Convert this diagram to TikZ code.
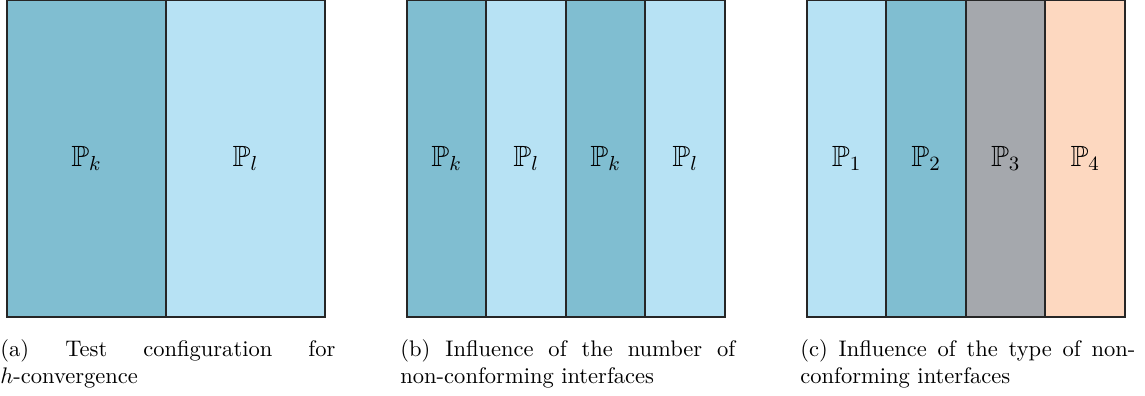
\documentclass[tikz,border=0pt]{standalone}
\usepackage{amssymb}
\usepackage{tikz}
\usetikzlibrary{positioning}
\definecolor{celldark}{RGB}{128,190,209}
\definecolor{celllight}{RGB}{183,226,244}
\definecolor{cellgray}{RGB}{165,168,173}
\definecolor{cellpeach}{RGB}{253,216,192}
\definecolor{edgedark}{RGB}{38,38,38}
\tikzset{
  wide/.style={rectangle, draw=edgedark, line width=0.9pt,
    minimum width=70.6pt, minimum height=140.7pt,
    inner sep=0pt, outer sep=0pt, font=\fontsize{13}{15}\selectfont},
  slab/.style={wide, minimum width=35.3pt},
  caption/.style={anchor=north west, text width=148.7pt, align=justify,
    inner sep=0pt, font=\normalsize}
}
\begin{document}
\begin{tikzpicture}
  \useasboundingbox (0,0) rectangle (508.4pt,-175.8pt);

  % ── (a) two subdomains ─────────────────────────────────────────────────────
  \node[wide, fill=celldark, anchor=north west] (ak) at (3.1pt,0) {$\mathbb{P}_k$};
  \node[wide, fill=celllight, right=0pt of ak] (al) {$\mathbb{P}_l$};
  \node[caption] (capa) at (0,-150.5pt)
    {(a) Test configuration for\linebreak $h$-convergence};

  % ── (b) alternating subdomains ─────────────────────────────────────────────
  \node[slab, fill=celldark, anchor=north west] (bk1) at (180.7pt,0) {$\mathbb{P}_k$};
  \node[slab, fill=celllight, right=0pt of bk1] (bl1) {$\mathbb{P}_l$};
  \node[slab, fill=celldark, right=0pt of bl1] (bk2) {$\mathbb{P}_k$};
  \node[slab, fill=celllight, right=0pt of bk2] (bl2) {$\mathbb{P}_l$};
  \node[caption] (capb) at (177.6pt,-150.5pt)
    {(b) Influence of the number of\linebreak non-conforming interfaces};

  % ── (c) four different spaces ──────────────────────────────────────────────
  \node[slab, fill=celllight, anchor=north west] (cp1) at (358.3pt,0) {$\mathbb{P}_1$};
  \node[slab, fill=celldark, right=0pt of cp1] (cp2) {$\mathbb{P}_2$};
  \node[slab, fill=cellgray, right=0pt of cp2] (cp3) {$\mathbb{P}_3$};
  \node[slab, fill=cellpeach, right=0pt of cp3] (cp4) {$\mathbb{P}_4$};
  \node[caption] (capc) at (355.2pt,-150.5pt)
    {(c) Influence of the type of non-\linebreak conforming interfaces};
\end{tikzpicture}
\end{document}
